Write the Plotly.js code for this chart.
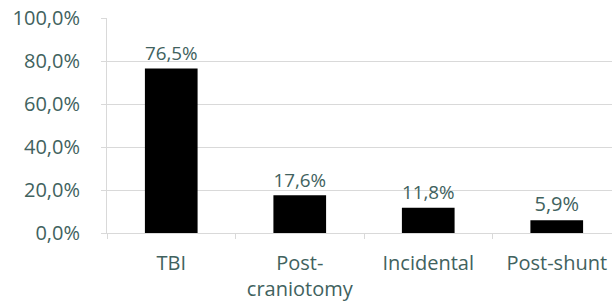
<!DOCTYPE html>
<html><head><meta charset="utf-8">
<script src="https://cdn.plot.ly/plotly-3.0.1.min.js"></script>
<style>body{margin:0;background:#fff}#c{width:612px;height:302px}</style>
</head><body><div id="c"></div>
<script>
const categories = ["TBI", "Post-<br>craniotomy", "Incidental", "Post-shunt"];
const values = [76.5, 17.6, 11.8, 5.9];
const yTicks = [0, 20, 40, 60, 80, 100];
const yTickLabels = ["0,0%", "20,0%", "40,0%", "60,0%", "80,0%", "100,0%"];

const txt = '#41625e';
Plotly.newPlot('c', [{
  type: 'bar', x: categories, y: values,
  marker: {color: '#000000', line: {color: '#000000', width: 0}},
  texttemplate: '%{y:.1f}%', textposition: 'outside', cliponaxis: false,
  textfont: {family: '"Open Sans", sans-serif', size: 20, color: txt},
  hoverinfo: 'none'
}], {
  width: 612, height: 302,
  margin: {l: 107, r: 0, t: 18, b: 69},
  separators: ',.',
  bargap: 0.59,
  showlegend: false,
  paper_bgcolor: '#fff', plot_bgcolor: '#fff',
  font: {family: '"Open Sans", sans-serif', size: 20, color: txt},
  xaxis: {range: [-0.5, 3.43], showgrid: false, showline: true, linecolor: '#d9d9d9', linewidth: 1,
    ticks: 'outside', ticklen: 5, tickcolor: '#d9d9d9', tickson: 'boundaries',
    ticklabelstandoff: 12, fixedrange: true},
  yaxis: {range: [0, 100], tickvals: yTicks, ticktext: yTickLabels,
    showgrid: true, gridcolor: '#d9d9d9', gridwidth: 1, zeroline: false,
    showline: true, linecolor: '#d9d9d9', ticks: 'outside', ticklen: 5, tickcolor: '#d9d9d9',
    ticklabelstandoff: 17, fixedrange: true}
}, {displayModeBar: false, staticPlot: true});
</script></body></html>
